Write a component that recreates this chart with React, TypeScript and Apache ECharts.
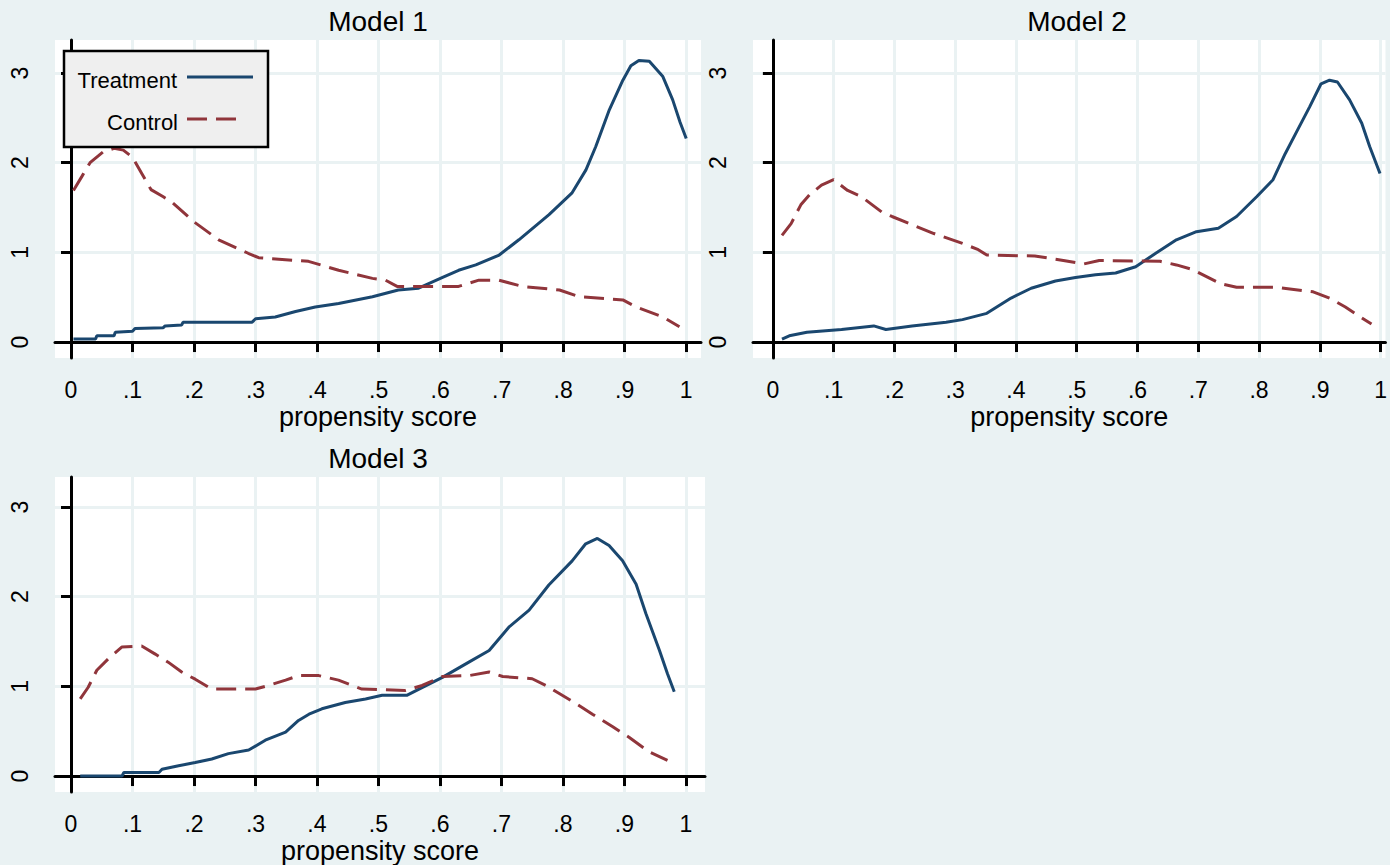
import React, { useEffect, useRef } from "react";
import * as echarts from "echarts";

const xTickValues = [0, 0.1, 0.2, 0.3, 0.4, 0.5, 0.6, 0.7, 0.8, 0.9, 1];
const yTickValues = [0, 1, 2, 3];
const panelTitles = ["Model 1", "Model 2", "Model 3"];
const xAxisTitle = "propensity score";
const seriesNames = ["Treatment", "Control"];

const model1Treatment = [
  [0.004, 0.033], [0.04, 0.035], [0.042, 0.07], [0.07, 0.07], [0.072, 0.11], [0.1, 0.12],
  [0.104, 0.15], [0.15, 0.16], [0.153, 0.18], [0.18, 0.19], [0.182, 0.22], [0.294, 0.22],
  [0.3, 0.26], [0.332, 0.28], [0.365, 0.34], [0.397, 0.39], [0.435, 0.43], [0.49, 0.505],
  [0.532, 0.58], [0.565, 0.6], [0.604, 0.72], [0.63, 0.8], [0.658, 0.86], [0.696, 0.97],
  [0.728, 1.14], [0.777, 1.42], [0.814, 1.66], [0.837, 1.92], [0.853, 2.18], [0.875, 2.59],
  [0.897, 2.92], [0.91, 3.08], [0.923, 3.14], [0.94, 3.13], [0.962, 2.96], [0.978, 2.7],
  [0.99, 2.45], [1.0, 2.27],
];
const model1Control = [
  [0.004, 1.69], [0.018, 1.85], [0.031, 2.0], [0.052, 2.12], [0.07, 2.16], [0.085, 2.14],
  [0.1, 2.06], [0.115, 1.88], [0.13, 1.7], [0.15, 1.62], [0.164, 1.56], [0.2, 1.34],
  [0.24, 1.14], [0.288, 0.99], [0.305, 0.94], [0.386, 0.9], [0.435, 0.8], [0.49, 0.71],
  [0.511, 0.69], [0.53, 0.62], [0.63, 0.62], [0.663, 0.69], [0.695, 0.69], [0.734, 0.62],
  [0.794, 0.58], [0.826, 0.505], [0.897, 0.47], [0.919, 0.39], [0.962, 0.28], [0.989, 0.17],
];
const model2Treatment = [
  [0.015, 0.033], [0.027, 0.07], [0.056, 0.11], [0.113, 0.14], [0.166, 0.18], [0.186, 0.14],
  [0.229, 0.18], [0.285, 0.22], [0.312, 0.25], [0.352, 0.32], [0.392, 0.49], [0.425, 0.6],
  [0.465, 0.68], [0.498, 0.72], [0.531, 0.75], [0.564, 0.77], [0.597, 0.84], [0.63, 0.99],
  [0.664, 1.14], [0.697, 1.23], [0.733, 1.27], [0.763, 1.4], [0.796, 1.62], [0.823, 1.81],
  [0.843, 2.1], [0.863, 2.36], [0.883, 2.62], [0.902, 2.88], [0.916, 2.92], [0.929, 2.9],
  [0.949, 2.7], [0.969, 2.44], [0.982, 2.18], [0.999, 1.88],
];
const model2Control = [
  [0.015, 1.19], [0.03, 1.32], [0.046, 1.53], [0.06, 1.64], [0.08, 1.75], [0.1, 1.81],
  [0.123, 1.69], [0.146, 1.62], [0.179, 1.45], [0.196, 1.4], [0.232, 1.3], [0.265, 1.21],
  [0.312, 1.1], [0.338, 1.03], [0.352, 0.97], [0.431, 0.96], [0.478, 0.91], [0.511, 0.87],
  [0.537, 0.91], [0.637, 0.9], [0.664, 0.86], [0.69, 0.81], [0.737, 0.65], [0.763, 0.61],
  [0.829, 0.61], [0.889, 0.56], [0.916, 0.49], [0.942, 0.39], [0.962, 0.3], [0.985, 0.2],
];
const model3Treatment = [
  [0.015, 0], [0.083, 0], [0.086, 0.04], [0.143, 0.04], [0.148, 0.075], [0.175, 0.115],
  [0.202, 0.15], [0.229, 0.19], [0.256, 0.25], [0.289, 0.29], [0.316, 0.4], [0.349, 0.49],
  [0.37, 0.62], [0.387, 0.69], [0.408, 0.75], [0.446, 0.82], [0.479, 0.86], [0.506, 0.9],
  [0.546, 0.9], [0.566, 0.97], [0.604, 1.1], [0.647, 1.27], [0.68, 1.4], [0.712, 1.66],
  [0.745, 1.85], [0.777, 2.13], [0.815, 2.4], [0.837, 2.59], [0.856, 2.65], [0.875, 2.57],
  [0.897, 2.4], [0.919, 2.14], [0.935, 1.81], [0.957, 1.4], [0.97, 1.14], [0.981, 0.94],
];
const model3Control = [
  [0.015, 0.86], [0.028, 0.99], [0.042, 1.18], [0.061, 1.31], [0.083, 1.44], [0.115, 1.45],
  [0.137, 1.36], [0.158, 1.27], [0.18, 1.16], [0.202, 1.08], [0.229, 0.97], [0.3, 0.97],
  [0.321, 1.01], [0.349, 1.07], [0.37, 1.12], [0.403, 1.12], [0.435, 1.07], [0.473, 0.97],
  [0.544, 0.955], [0.571, 1.01], [0.604, 1.11], [0.647, 1.12], [0.68, 1.16], [0.702, 1.11],
  [0.75, 1.085], [0.772, 1.01], [0.794, 0.92], [0.821, 0.81], [0.848, 0.69], [0.881, 0.55],
  [0.908, 0.43], [0.94, 0.27], [0.97, 0.175],
];

const panelData = [
  [model1Treatment, model1Control],
  [model2Treatment, model2Control],
  [model3Treatment, model3Control],
];

const BG = "#eaf2f3";
const NAVY = "#1a476f";
const MAROON = "#90353b";
const FONT = "'Liberation Sans', Arial, Helvetica, sans-serif";
const DASH = [20, 9];

const grids = [
  { left: 55, top: 40, width: 646, height: 318, xMin: -0.026, xMax: 1.024, yMin: -0.178, yMax: 3.368, cx: 378 },
  { left: 753, top: 40, width: 637, height: 318, xMin: -0.0327, xMax: 1.008, yMin: -0.178, yMax: 3.368, cx: 1077 },
  { left: 55, top: 477, width: 650, height: 315, xMin: -0.026, xMax: 1.031, yMin: -0.178, yMax: 3.335, cx: 378 },
];

const fmtX = (v: number) => (v === 0 ? "0" : v === 1 ? "1" : String(v).replace(/^0/, ""));

export default function App() {
  const ref = useRef<HTMLDivElement>(null);
  useEffect(() => {
    if (!ref.current) return;
    const chart = echarts.init(ref.current, undefined, { renderer: "svg" });
    const axisLine = { show: true, lineStyle: { color: "#000", width: 3 } };
    const axisTick = (vals: number[]) => ({ show: true, length: 10, lineStyle: { color: "#000", width: 3 }, customValues: vals });
    const splitLine = { show: true, lineStyle: { color: BG, width: 3 } };
    const Z = 100;

    const option: any = {
      animation: false,
      backgroundColor: BG,
      textStyle: { fontFamily: FONT },
      title: grids.map((g, i) => ({
        text: panelTitles[i],
        left: g.cx,
        top: g.top - 33,
        textAlign: "center",
        padding: 0,
        textStyle: { fontFamily: FONT, fontSize: 28, fontWeight: "normal", color: "#000" },
      })),
      grid: grids.map((g) => ({
        left: g.left, top: g.top, width: g.width, height: g.height,
        show: true, backgroundColor: "#ffffff", borderWidth: 0, containLabel: false,
      })),
      xAxis: grids.map((g, i) => ({
        type: "value", gridIndex: i, min: g.xMin, max: g.xMax,
        name: xAxisTitle, nameLocation: "middle", nameGap: 45,
        nameTextStyle: { fontFamily: FONT, fontSize: 27, color: "#000" },
        axisLine, axisTick: axisTick(xTickValues),
        axisLabel: { customValues: xTickValues, formatter: fmtX, fontFamily: FONT, fontSize: 23, color: "#000", margin: 20 },
        splitLine,
      })),
      yAxis: grids.map((g, i) => ({
        type: "value", gridIndex: i, min: g.yMin, max: g.yMax,
        axisLine, axisTick: axisTick(yTickValues),
        axisLabel: { customValues: yTickValues, rotate: 90, fontFamily: FONT, fontSize: 23, color: "#000", margin: 24 },
        splitLine,
      })),
      series: panelData.flatMap((pair, i) => [
        {
          name: seriesNames[0], type: "line", xAxisIndex: i, yAxisIndex: i, data: pair[0],
          symbol: "none", lineStyle: { color: NAVY, width: 3 }, itemStyle: { color: NAVY },
        },
        {
          name: seriesNames[1], type: "line", xAxisIndex: i, yAxisIndex: i, data: pair[1],
          symbol: "none", lineStyle: { color: MAROON, width: 3, type: DASH }, itemStyle: { color: MAROON },
        },
      ]),
      graphic: [
        { type: "rect", z: Z, shape: { x: 64, y: 51, width: 204, height: 96 }, style: { fill: "#efefef", stroke: "#000", lineWidth: 2.5 } },
        { type: "text", z: Z + 1, x: 177, y: 80, style: { text: seriesNames[0], fontFamily: FONT, fontSize: 22, fill: "#000", align: "right", verticalAlign: "middle" } },
        { type: "line", z: Z + 1, shape: { x1: 187, y1: 77, x2: 253, y2: 77 }, style: { stroke: NAVY, lineWidth: 3 } },
        { type: "text", z: Z + 1, x: 178, y: 122, style: { text: seriesNames[1], fontFamily: FONT, fontSize: 22, fill: "#000", align: "right", verticalAlign: "middle" } },
        { type: "line", z: Z + 1, shape: { x1: 187, y1: 119, x2: 244, y2: 119 }, style: { stroke: MAROON, lineWidth: 3, lineDash: DASH } },
      ],
    };
    chart.setOption(option);
    return () => chart.dispose();
  }, []);
  return <div ref={ref} style={{ position: "fixed", left: 0, top: 0, width: 1390, height: 865 }} />;
}
